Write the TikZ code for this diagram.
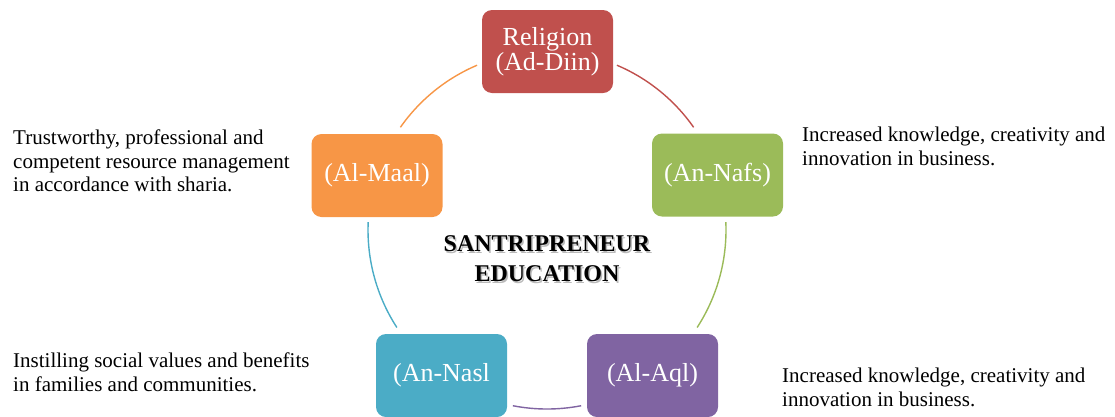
\documentclass[tikz,border=0pt]{standalone}
\usepackage{fontspec}
\setmainfont{Liberation Serif}
\definecolor{cRed}{HTML}{C0504D}
\definecolor{cGreen}{HTML}{9BBB59}
\definecolor{cOrange}{HTML}{F79646}
\definecolor{cBlue}{HTML}{4BACC6}
\definecolor{cPurple}{HTML}{8064A2}
\begin{document}
\begin{tikzpicture}[x=1pt,y=1pt,
  pillar/.style={rectangle, rounded corners=10pt, minimum width=131pt, minimum height=83pt,
    inner sep=0pt, align=center, text=white,
    font=\fontsize{26}{25}\selectfont},
  note/.style={anchor=north west, inner sep=0pt, align=left,
    font=\fontsize{21}{23.5}\selectfont},
  ring/.style={line width=1.4pt},
  title/.style={inner sep=0pt, align=center, font=\fontsize{24}{30}\selectfont\bfseries}]
\useasboundingbox (0,0) rectangle (1115,-416);

% circle centre and radius of the cycle
\coordinate (hub) at (547,-230);
\def\rr{179}

% ring segments between the pillars
\draw[ring, cRed]    (hub) ++(67:\rr)   arc[start angle=67,   end angle=35,  radius=\rr];
\draw[ring, cGreen]  (hub) ++(2.5:\rr)  arc[start angle=2.5,  end angle=-33, radius=\rr];
\draw[ring, cPurple] (hub) ++(-79:\rr)  arc[start angle=-79,  end angle=-101, radius=\rr];
\draw[ring, cBlue]   (hub) ++(213:\rr)  arc[start angle=213,  end angle=177.5, radius=\rr];
\draw[ring, cOrange] (hub) ++(145:\rr)  arc[start angle=145,  end angle=113, radius=\rr];

% the five pillars
\node[pillar, fill=cRed]    (diin) at (547.5,-51.5) {Religion\\(Ad-Diin)};
\node[pillar, fill=cGreen]  (nafs) at (717.5,-175)  {(An-Nafs)};
\node[pillar, fill=cPurple] (aql)  at (652.5,-375.5) {(Al-Aql)};
\node[pillar, fill=cBlue]   (nasl) at (441.5,-375.5) {(An-Nasl};
\node[pillar, fill=cOrange] (maal) at (377,-175.5)  {(Al-Maal)};

% centre title with a soft shadow
\node[title, text=black!45, opacity=0.6] (titleshadow) at (548.5,-260.5) {SANTRIPRENEUR\\EDUCATION};
\node[title] (titletext) at (547,-259) {SANTRIPRENEUR\\EDUCATION};

% descriptions
\node[note] (maalnote) at (13,-130) {Trustworthy, professional and\\competent resource management\\in accordance with sharia.};
\node[note] (nafsnote) at (802,-127) {Increased knowledge, creativity and\\innovation in business.};
\node[note] (naslnote) at (13,-353) {Instilling social values and benefits\\in families and communities.};
\node[note] (aqlnote)  at (782,-368) {Increased knowledge, creativity and\\innovation in business.};
\end{tikzpicture}
\end{document}
